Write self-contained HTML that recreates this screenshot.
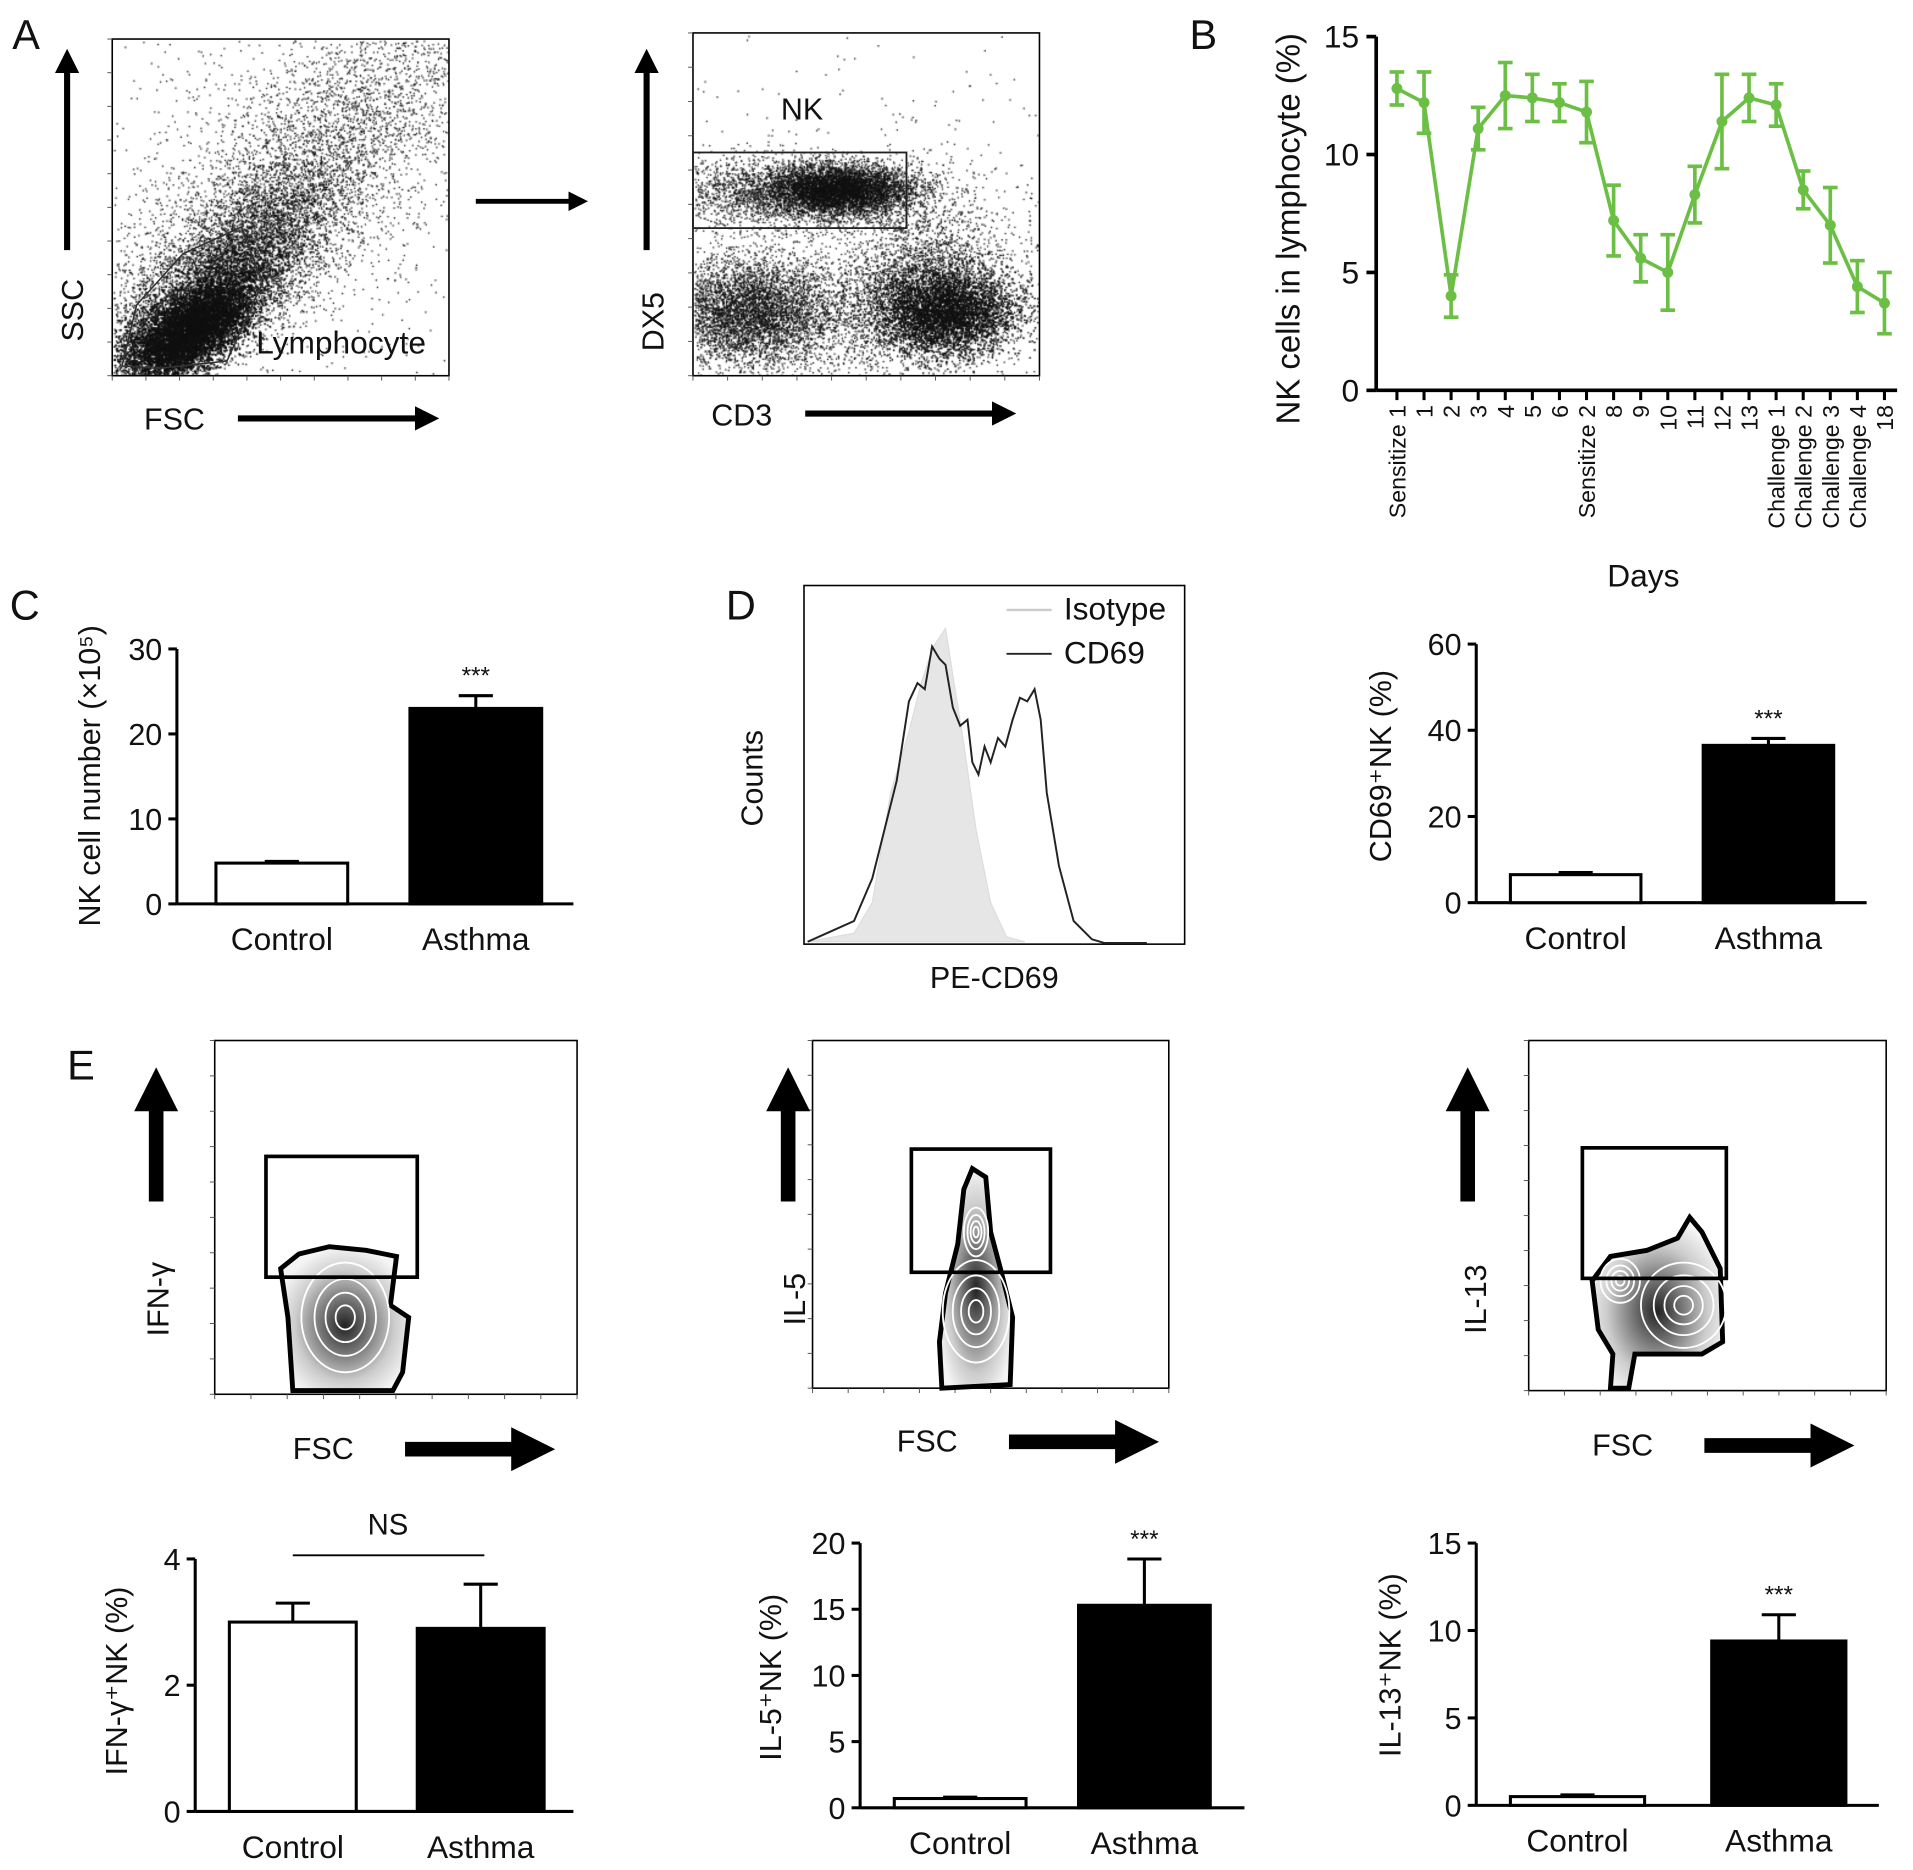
<!DOCTYPE html>
<html><head><meta charset="utf-8">
<style>
html,body{margin:0;padding:0;background:#fff;width:1913px;height:1870px;overflow:hidden}
#wrap{position:absolute;left:0;top:0;width:1568px;height:1533px;transform:scale(1.22003,1.21983);transform-origin:0 0}
svg{position:absolute;left:0;top:0}
canvas{position:absolute}
text{font-family:"Liberation Sans",sans-serif;fill:#111}
</style></head><body>
<div id="wrap">
<canvas id="cv1" width="276" height="276" style="left:92px;top:32px"></canvas>
<canvas id="cv2" width="284" height="281" style="left:568px;top:27px"></canvas>
<svg id="s" width="1568" height="1533" viewBox="0 0 1568 1533">
<defs>
<marker id="ah" markerWidth="4" markerHeight="4" refX="1" refY="2" orient="auto" markerUnits="strokeWidth"><path d="M0,0 L4,2 L0,4z" fill="#000"/></marker>
<marker id="ah2" markerWidth="3" markerHeight="3" refX="0.5" refY="1.5" orient="auto" markerUnits="strokeWidth"><path d="M0,0 L3,1.5 L0,3z" fill="#000"/></marker>
<radialGradient id="cg" cx="50%" cy="55%" r="55%"><stop offset="0" stop-color="#222"/><stop offset="0.35" stop-color="#777"/><stop offset="0.7" stop-color="#ccc"/><stop offset="1" stop-color="#f4f4f4"/></radialGradient>
</defs>
<g id="root"></g>
</svg>
</div>
<script>
// ---- Panel B data ----
const bLabels=["Sensitize 1","1","2","3","4","5","6","Sensitize 2","8","9","10","11","12","13","Challenge 1","Challenge 2","Challenge 3","Challenge 4","18"];
const bValues=[12.8,12.2,4.0,11.1,12.5,12.4,12.2,11.8,7.2,5.6,5.0,8.3,11.4,12.4,12.1,8.5,7.0,4.4,3.7];
const bErrors=[0.7,1.3,0.9,0.9,1.4,1.0,0.8,1.3,1.5,1.0,1.6,1.2,2.0,1.0,0.9,0.8,1.6,1.1,1.3];
const bTicks=[0,5,10,15];
// ---- Bar charts ----
const barCategories=["Control","Asthma"];
const cValues=[4.8,23.0]; const cErrors=[0.2,1.5]; const cTicks=[0,10,20,30];
const dValues=[6.5,36.5]; const dErrors=[0.5,1.6]; const dTicks=[0,20,40,60];
const e1Values=[3.0,2.9]; const e1Errors=[0.3,0.7]; const e1Ticks=[0,2,4];
const e2Values=[0.7,15.3]; const e2Errors=[0.1,3.5]; const e2Ticks=[0,5,10,15,20];
const e3Values=[0.5,9.4]; const e3Errors=[0.1,1.5]; const e3Ticks=[0,5,10,15];

const NS="http://www.w3.org/2000/svg";
const root=document.getElementById('root');
function el(tag,attrs,parent,txt){const e=document.createElementNS(NS,tag);for(const k in attrs)e.setAttribute(k,attrs[k]);if(txt!==undefined)e.textContent=txt;(parent||root).appendChild(e);return e;}
function T(x,y,s,size,name,extra){const t=el('text',Object.assign({x:x,y:y,'font-size':size},extra||{}),root,s);return t;}
function arrow(x1,y1,x2,y2,w,name,mk){const l=el('line',{x1:x1,y1:y1,x2:x2,y2:y2,stroke:'#000','stroke-width':w,'marker-end':'url(#'+(mk||'ah')+')'});}

// panel letters
[["A",10,40],["B",975,40],["C",8,508],["D",595,508],["E",55,885]].forEach(p=>{T(p[1],p[2],p[0],34,'panel-label-'+p[0].toLowerCase());});

// ---- Panel A ----
function box(x,y,w,h,name){const r=el('rect',{x:x,y:y,width:w,height:h,fill:'none',stroke:'#000','stroke-width':1.3});}
function minorTicks(x0,y0,x1,y1,n){for(let i=0;i<=n;i++){const x=x0+(x1-x0)*i/n;el('line',{x1:x,y1:y1,x2:x,y2:y1+4,stroke:'#555','stroke-width':0.8});}
 for(let i=0;i<=n;i++){const y=y0+(y1-y0)*i/n;el('line',{x1:x0-4,y1:y,x2:x0,y2:y,stroke:'#555','stroke-width':0.8});}}
box(92,32,276,276,'fsc-ssc-plot-frame');minorTicks(92,32,368,308,10);
box(568,27,284,281,'cd3-dx5-plot-frame');minorTicks(568,27,852,308,10);
let g=el('polygon',{points:"100,300 112,250 150,208 198,186 215,232 186,296 130,302",fill:'none',stroke:'#333','stroke-width':1.3});
T(210,290,'Lymphocyte',26,'lymphocyte-gate-label');
arrow(55,205,55,55,5,'ssc-axis-arrow');T(68,280,'SSC',25,'ssc-label',{transform:'rotate(-90 68 280)'});
arrow(195,343,345,343,5,'fsc-axis-arrow');T(118,352,'FSC',25,'fsc-label');
arrow(390,165,470,165,4,'gating-arrow');
g=el('rect',{x:568,y:125,width:175,height:62,fill:'none',stroke:'#222','stroke-width':1.5});
T(640,98,'NK',25,'nk-gate-label');
arrow(530,205,530,55,5,'dx5-axis-arrow');T(544,288,'DX5',25,'dx5-label',{transform:'rotate(-90 544 288)'});
arrow(660,339,818,339,5,'cd3-axis-arrow');T(583,349,'CD3',25,'cd3-label');

// scatter canvases
let seed=12345;function rnd(){seed=(seed*1103515245+12345)&0x7fffffff;return seed/0x7fffffff;}
function gauss(){return Math.sqrt(-2*Math.log(rnd()+1e-9))*Math.cos(2*Math.PI*rnd());}
function cloud(ctx,n,cx,cy,sx,sy,rot,W,H){const c=Math.cos(rot),s=Math.sin(rot);for(let i=0;i<n;i++){const a=gauss()*sx,b=gauss()*sy;const x=cx+a*c-b*s,y=cy+a*s+b*c;if(x>1&&x<W-1&&y>1&&y<H-1)ctx.fillRect(x,y,1.2,1.2);}}
(function(){const c=document.getElementById('cv1').getContext('2d');c.fillStyle='#111';
cloud(c,16000,62,240,30,14,-0.6,276,276);cloud(c,7000,90,200,55,22,-0.75,276,276);cloud(c,4500,120,150,110,30,-0.8,276,276);cloud(c,2500,160,100,130,60,-0.7,276,276);cloud(c,600,180,140,120,120,0,276,276);})();
(function(){const c=document.getElementById('cv2').getContext('2d');c.fillStyle='#111';
cloud(c,5000,120,128,28,10,0,284,281);cloud(c,3000,80,130,55,14,0,284,281);cloud(c,5000,45,228,35,22,0,284,281);cloud(c,8000,205,228,30,18,0,284,281);cloud(c,1800,195,190,35,30,0.5,284,281);cloud(c,1500,140,230,60,30,0,284,281);cloud(c,600,150,160,110,80,0,284,281);})();

// ---- Panel B ----
(function(){const x0=1128,yT=30,yB=320;const ys=v=>yB-(yB-yT)*v/15;const xs=i=>1145+i*22.2;
el('line',{x1:x0,y1:yT,x2:x0,y2:yB,stroke:'#000','stroke-width':3});el('line',{x1:x0,y1:yB,x2:1555,y2:yB,stroke:'#000','stroke-width':3});
bTicks.forEach(t=>{el('line',{x1:x0-8,y1:ys(t),x2:x0,y2:ys(t),stroke:'#000','stroke-width':3});T(x0-14,ys(t)+9,String(t),26,'b-y-tick-'+t,{'text-anchor':'end'});});
bLabels.forEach((l,i)=>{el('line',{x1:xs(i),y1:yB,x2:xs(i),y2:yB+8,stroke:'#000','stroke-width':2.5});T(xs(i)+7,yB+12,l,19,'b-x-tick-'+i,{'text-anchor':'end',transform:'rotate(-90 '+(xs(i)+7)+' '+(yB+12)+')'});});
T(1065,348,'NK cells in lymphocyte (%)',27,'b-y-axis-title',{transform:'rotate(-90 1065 348)'});
T(1347,481,'Days',26,'b-x-axis-title',{'text-anchor':'middle'});
const pts=bValues.map((v,i)=>xs(i)+','+ys(v)).join(' ');
const pl=el('polyline',{points:pts,fill:'none',stroke:'#6cbf45','stroke-width':3});
bValues.forEach((v,i)=>{const x=xs(i),e=bErrors[i];const gg=el('g',{stroke:'#6cbf45','stroke-width':3});
el('line',{x1:x,y1:ys(v-e),x2:x,y2:ys(v+e)},gg);el('line',{x1:x-6,y1:ys(v-e),x2:x+6,y2:ys(v-e)},gg);el('line',{x1:x-6,y1:ys(v+e),x2:x+6,y2:ys(v+e)},gg);
el('circle',{cx:x,cy:ys(v),r:4.5,fill:'#6cbf45',stroke:'none'},gg);});})();

// ---- Bar chart helper ----
function barChart(id,vals,errs,ticks,o){const ys=v=>o.yB-(o.yB-o.yT)*v/o.max;
el('line',{x1:o.x0,y1:o.yT,x2:o.x0,y2:o.yB,stroke:'#000','stroke-width':2.5});el('line',{x1:o.x0,y1:o.yB,x2:o.x1,y2:o.yB,stroke:'#000','stroke-width':2.5});
ticks.forEach(t=>{el('line',{x1:o.x0-7,y1:ys(t),x2:o.x0,y2:ys(t),stroke:'#000','stroke-width':2.5});T(o.x0-12,ys(t)+9,String(t),25,id+'-y-tick-'+t,{'text-anchor':'end'});});
vals.forEach((v,i)=>{const bx=o.bx[i],bw=o.bw,e=errs[i],cx=bx+bw/2;
el('line',{x1:cx,y1:ys(v),x2:cx,y2:ys(v+e),stroke:'#000','stroke-width':2.5});el('line',{x1:cx-14,y1:ys(v+e),x2:cx+14,y2:ys(v+e),stroke:'#000','stroke-width':2.5});
const r=el('rect',{x:bx,y:ys(v),width:bw,height:o.yB-ys(v),fill:i?'#000':'#fff',stroke:'#000','stroke-width':2.5});
T(cx,o.yB+38,barCategories[i],26,id+'-x-label-'+i,{'text-anchor':'middle'});
if(o.star&&i==1)T(cx,ys(v+e)-10,'***',20,id+'-significance',{'text-anchor':'middle'});});
T(o.tx,o.ty,o.title,25,id+'-y-axis-title',{transform:'rotate(-90 '+o.tx+' '+o.ty+')','text-anchor':'middle'});}
barChart('c',cValues,cErrors,cTicks,{x0:145,x1:470,yT:532,yB:741,max:30,bx:[177,336],bw:108,star:1,tx:82,ty:636,title:'NK cell number (×10⁵)'});
barChart('d',dValues,dErrors,dTicks,{x0:1210,x1:1530,yT:528,yB:740,max:60,bx:[1238,1396],bw:107,star:1,tx:1140,ty:628,title:'CD69⁺NK (%)'});
barChart('e1',e1Values,e1Errors,e1Ticks,{x0:160,x1:470,yT:1278,yB:1485,max:4,bx:[188,342],bw:104,star:0,tx:104,ty:1378,title:'IFN-γ⁺NK (%)'});
barChart('e2',e2Values,e2Errors,e2Ticks,{x0:705,x1:1020,yT:1265,yB:1482,max:20,bx:[733,884],bw:108,star:1,tx:640,ty:1375,title:'IL-5⁺NK (%)'});
barChart('e3',e3Values,e3Errors,e3Ticks,{x0:1210,x1:1540,yT:1265,yB:1480,max:15,bx:[1238,1403],bw:110,star:1,tx:1148,ty:1365,title:'IL-13⁺NK (%)'});
el('line',{x1:240,y1:1275,x2:397,y2:1275,stroke:'#000','stroke-width':1.5});T(318,1258,'NS',24,'ns-label',{'text-anchor':'middle'});

// ---- Panel D histogram ----
box(659,480,312,294,'histogram-frame');
(function(){const iso="M662,772 L700,765 L715,740 L730,650 L745,600 L755,560 L765,530 L775,515 L782,560 L790,610 L800,680 L812,740 L825,768 L840,772 Z";
const p=el('path',{d:iso,fill:'#e6e6e6',stroke:'#ddd','stroke-width':1});
const cd="M662,772 L680,764 L700,755 L715,720 L725,680 L735,640 L745,575 L752,560 L758,565 L764,530 L770,540 L775,545 L781,580 L787,595 L793,590 L797,625 L802,635 L807,612 L812,625 L818,605 L824,612 L830,590 L836,572 L842,575 L848,565 L853,590 L858,650 L868,710 L880,755 L895,770 L905,773 L940,773";
const q=el('path',{d:cd,fill:'none',stroke:'#222','stroke-width':1.6});
el('line',{x1:825,y1:500,x2:862,y2:500,stroke:'#ccc','stroke-width':2});el('line',{x1:825,y1:536,x2:862,y2:536,stroke:'#222','stroke-width':1.6});
T(872,508,'Isotype',26,'legend-isotype');T(872,544,'CD69',26,'legend-cd69');
T(625,638,'Counts',25,'counts-label',{transform:'rotate(-90 625 638)','text-anchor':'middle'});T(815,810,'PE-CD69',25,'pe-cd69-label',{'text-anchor':'middle'});})();

// ---- Panel E contour plots ----
function contourPlot(bx,by,bw,bh,gate,label,blob,centers,ax,axLblX,fscX,fscY,id){
box(bx,by,bw,bh,id+'-frame');minorTicks(bx,by,bx+bw,by+bh,10);
const p=el('path',{d:blob,fill:'url(#cg)',stroke:'#000','stroke-width':4});
centers.forEach(c=>{[c[2],c[2]*0.7,c[2]*0.45,c[2]*0.22].forEach(r=>el('ellipse',{cx:c[0],cy:c[1],rx:r*c[3],ry:r,fill:'none',stroke:'#fff','stroke-width':1.5}));});
const r=el('rect',{x:gate[0],y:gate[1],width:gate[2],height:gate[3],fill:'none',stroke:'#000','stroke-width':3});
arrow(ax,985,ax,905,12,id+'-y-arrow','ah2');
T(axLblX,1065,label,25,id+'-y-label',{transform:'rotate(-90 '+axLblX+' 1065)','text-anchor':'middle'});
arrow(fscX+92,fscY-8,fscX+185,fscY-8,12,id+'-x-arrow','ah2');T(fscX,fscY,'FSC',25,id+'-fsc-label');}
contourPlot(176,853,297,290,[218,948,124,99],'IFN-γ',"M240,1140 L236,1080 L230,1040 L245,1028 L270,1022 L300,1025 L325,1030 L320,1070 L335,1080 L330,1125 L322,1140 Z",[[283,1080,45,0.8]],128,138,240,1196,'ifn');
contourPlot(666,853,292,285,[747,942,114,101],'IL-5',"M772,1138 L770,1100 L775,1060 L785,1020 L790,975 L797,958 L808,965 L812,1010 L820,1040 L830,1080 L828,1135 Z",[[800,1075,42,0.65],[800,1010,20,0.5]],646,660,735,1190,'il5');
contourPlot(1253,853,293,287,[1297,941,118,107],'IL-13',"M1320,1138 L1322,1110 L1310,1090 L1305,1050 L1320,1030 L1350,1025 L1375,1015 L1385,998 L1395,1010 L1410,1040 L1412,1100 L1395,1110 L1340,1110 L1335,1138 Z",[[1380,1070,35,1],[1328,1050,18,0.9]],1203,1218,1305,1193,'il13');
</script>
</body></html>
